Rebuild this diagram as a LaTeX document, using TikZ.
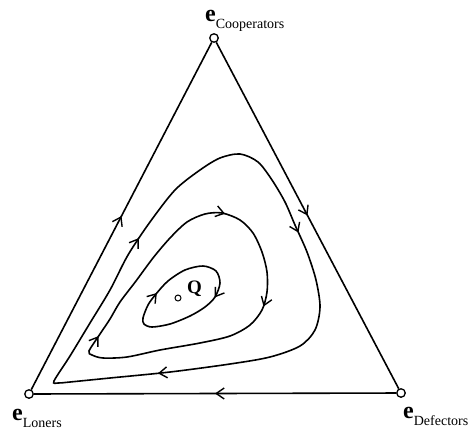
\documentclass[tikz,border=0pt]{standalone}
\usepackage{fontspec}
\setmainfont{Liberation Serif}
\usetikzlibrary{arrows.meta,decorations.markings}
\tikzset{
  vertex/.style={circle,draw,fill=white,line width=1.3pt,inner sep=0pt,minimum size=8.5pt},
  edge/.style={line width=1.6pt},
  orbit/.style={line width=1.6pt},
  flow at/.style={postaction={decorate,decoration={markings,mark=at position #1 with {\arrow{Straight Barb[length=8pt,width=11pt,line width=1.4pt]}}}}},
  cornerlabel/.style={anchor=base west,inner sep=0pt}
}
\newcommand{\vlabel}[1]{{\fontsize{24}{24}\selectfont\bfseries e}\raisebox{-7pt}{\fontsize{14}{14}\selectfont #1}}

\begin{document}
\begin{tikzpicture}[x=1pt,y=-1pt]
\useasboundingbox (0,0) rectangle (470,431);

% corners of the simplex
\node[vertex] (coop) at (214,38) {};
\node[vertex] (lone) at (29,394) {};
\node[vertex] (defe) at (401,393) {};

\node[cornerlabel] (coopname) at (205,21) {\vlabel{Cooperators}};
\node[cornerlabel] (lonename) at (12,420) {\vlabel{Loners}};
\node[cornerlabel] (defename) at (403,418) {\vlabel{Defectors}};

% heteroclinic cycle on the boundary
\draw[edge,flow at=0.5] (lone) -- (coop);
\draw[edge,flow at=0.5] (coop) -- (defe);
\draw[edge,flow at=0.5] (defe) -- (lone);

% closed orbits around Q
\draw[orbit,flow at=0.07,flow at=0.53] plot[smooth cycle] coordinates {
  (143,318) (148,305) (156,294) (168,281) (185,270) (203,266) (216,271)
  (220,283) (215,297) (205,307) (190,316) (170,324) (152,327) (144,324)};
\draw[orbit,flow at=0.995,flow at=0.36,flow at=0.58] plot[smooth cycle] coordinates {
  (89,351) (100,334) (110,319) (120,302) (136,281) (153,258) (170,238)
  (187,222) (205,214) (222,213) (240,220) (253,233) (262,252) (267,272)
  (267,292) (262,310) (250,325) (230,336) (200,343) (160,350) (127,357)
  (103,358) (92,355)};
\draw[orbit,flow at=0.175,flow at=0.48,flow at=0.825] plot[smooth cycle] coordinates {
  (54,381) (70,356) (90,323) (110,290) (128,255) (150,222) (175,190)
  (200,170) (220,158) (240,154) (258,162) (272,180) (285,202) (295,225)
  (307,252) (316,280) (320,307) (315,330) (300,346) (270,357) (230,364)
  (170,372) (110,378) (70,382) (58,383)};

% interior fixed point
\node[vertex,minimum size=6pt,line width=1pt] (q) at (178,298) {};
\node[cornerlabel] (qname) at (187,293) {\fontsize{19}{19}\selectfont\bfseries Q};
\end{tikzpicture}
\end{document}
